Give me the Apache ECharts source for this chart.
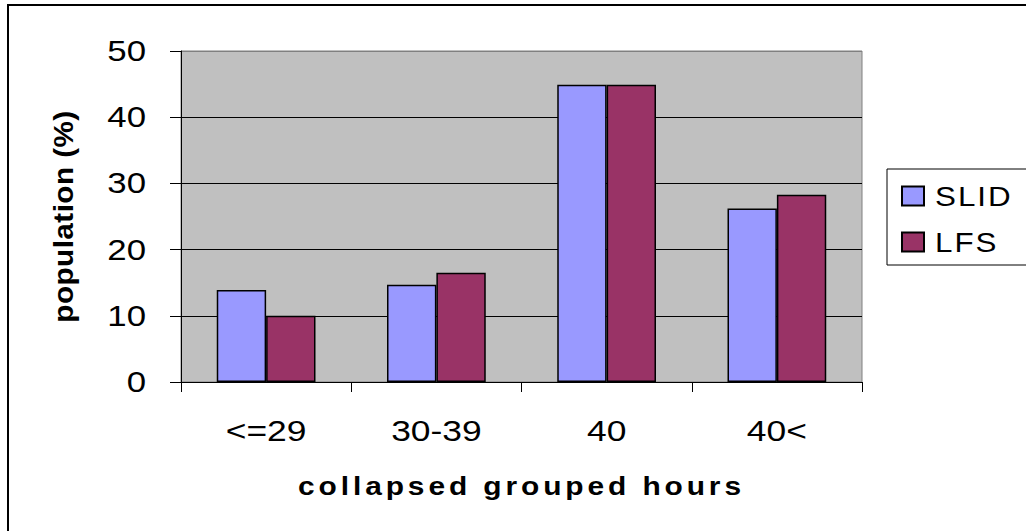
<!DOCTYPE html>
<html>
<head>
<meta charset="utf-8">
<script src="https://cdn.jsdelivr.net/npm/echarts@6/dist/echarts.min.js"></script>
<style>
html, body { margin: 0; padding: 0; background: #ffffff; }
#chart { width: 1026px; height: 531px; }
</style>
</head>
<body>
<div id="chart"></div>
<script>
// ---- data ----
const categories = ['<=29', '30-39', '40', '40<'];
const seriesNames = ['SLID', 'LFS'];
const slidValues = [13.9, 14.7, 44.9, 26.2];
const lfsValues = [10.0, 16.5, 44.9, 28.3];
const yMin = 0;
const yMax = 50;
const yInterval = 10;
const xAxisTitle = 'collapsed grouped hours';
const yAxisTitle = 'population (%)';

const FONT = '"Liberation Sans", Arial, sans-serif';

const chart = echarts.init(document.getElementById('chart'), null, { renderer: 'svg' });

chart.setOption({
  animation: false,
  backgroundColor: '#ffffff',
  graphic: [{
    type: 'rect',
    shape: { x: 8, y: 5, width: 1040, height: 560 },
    style: { fill: 'none', stroke: '#000000', lineWidth: 2 },
    silent: true,
    z: 100
  }],
  grid: {
    left: 181, top: 51, right: 164, bottom: 149,
    show: true,
    backgroundColor: '#c0c0c0',
    borderColor: '#808080',
    borderWidth: 1
  },
  legend: {
    data: seriesNames,
    orient: 'vertical',
    left: 887,
    top: 169,
    padding: [13, 60, 9, 14],
    itemWidth: 22,
    itemHeight: 19,
    itemGap: 18,
    backgroundColor: '#ffffff',
    borderColor: '#000000',
    borderWidth: 1,
    borderRadius: 0,
    icon: 'rect',
    textStyle: {
      fontFamily: FONT, fontSize: 28, color: '#000000',
      padding: [0, 0, 0, 6]
    }
  },
  xAxis: {
    type: 'category',
    data: categories,
    axisLine: { show: true, lineStyle: { color: '#000000', width: 1 } },
    axisTick: { show: true, inside: false, length: 10, lineStyle: { color: '#000000' } },
    axisLabel: { fontFamily: FONT, fontSize: 30, color: '#000000', margin: 33 },
    name: xAxisTitle,
    nameLocation: 'middle',
    nameGap: 91,
    nameTextStyle: { fontFamily: FONT, fontSize: 26, fontWeight: 'bold', color: '#000000' }
  },
  yAxis: {
    type: 'value',
    min: yMin,
    max: yMax,
    interval: yInterval,
    axisLine: { show: true, lineStyle: { color: '#000000', width: 1 } },
    axisTick: { show: true, inside: false, length: 11, lineStyle: { color: '#000000' } },
    axisLabel: { fontFamily: FONT, fontSize: 29, color: '#000000', margin: 35 },
    splitLine: { show: true, lineStyle: { color: ['#000000', '#000000', '#000000', '#000000', '#000000', '#808080'], width: 1 } },
    name: yAxisTitle,
    nameLocation: 'middle',
    nameRotate: 90,
    nameGap: 104,
    nameTextStyle: { fontFamily: FONT, fontSize: 27, fontWeight: 'bold', color: '#000000' }
  },
  series: [
    {
      name: seriesNames[0],
      type: 'bar',
      data: slidValues,
      barGap: '0%',
      barCategoryGap: '42%',
      itemStyle: { color: '#9999ff', borderColor: '#000000', borderWidth: 1.5 }
    },
    {
      name: seriesNames[1],
      type: 'bar',
      data: lfsValues,
      barGap: '0%',
      barCategoryGap: '42%',
      itemStyle: { color: '#993366', borderColor: '#000000', borderWidth: 1.5 }
    }
  ]
});

// The reference's Arial lettering is horizontally stretched / spaced: widen it.
const widenBySize = {
  '26px': { scale: 1.15, spacing: 3.4 },  // x axis title
  '27px': { scale: 1.1, spacing: 0.4 },   // y axis title
  '28px': { scale: 1.12, spacing: 1.8 },  // legend
  '29px': { scale: 1.2, spacing: 0 },     // y tick labels
  '30px': { scale: 1.18, spacing: 0 }     // x tick labels
};
function widenText() {
  const texts = document.querySelectorAll('#chart svg text');
  texts.forEach(function (t) {
    const cfg = widenBySize[window.getComputedStyle(t).fontSize];
    if (!cfg) return;
    if (cfg.spacing) {
      t.style.letterSpacing = cfg.spacing + 'px';
    }
    const cur = t.getAttribute('transform') || '';
    if (t.__widened === cur) return;
    const x = parseFloat(t.getAttribute('x') || '0') || 0;
    const next = (cur ? cur + ' ' : '') +
      'translate(' + x + ' 0) scale(' + cfg.scale + ' 1) translate(' + (-x) + ' 0)';
    t.setAttribute('transform', next);
    t.__widened = next;
  });
}
chart.on('finished', widenText);
widenText();
setTimeout(widenText, 0);
setTimeout(widenText, 100);
</script>
</body>
</html>
